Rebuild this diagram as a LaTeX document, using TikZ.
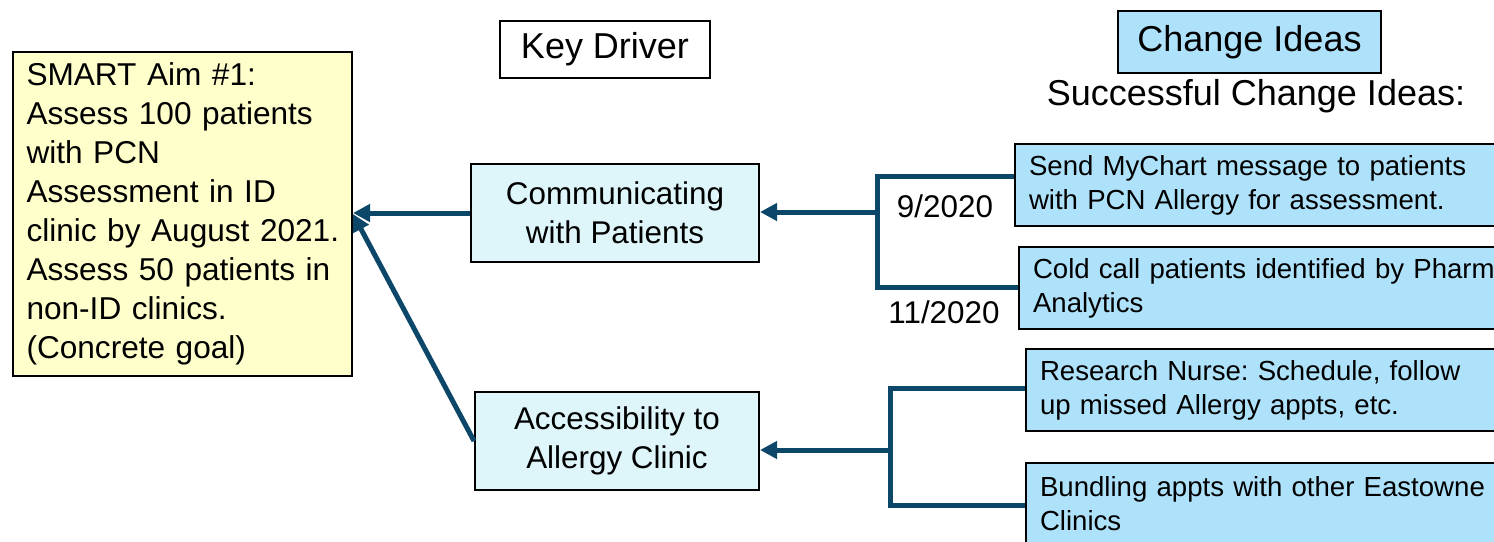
\documentclass[tikz,border=0pt]{standalone}
\usepackage{fontspec}
\setmainfont{Liberation Sans}
\usepackage[dvipsnames]{xcolor}
\usetikzlibrary{arrows.meta}
\definecolor{aimyellow}{RGB}{255,255,204}
\definecolor{driverblue}{RGB}{222,245,250}
\definecolor{ideablue}{RGB}{174,225,250}
\definecolor{linknavy}{RGB}{12,70,105}
\frenchspacing

\begin{document}
\begin{tikzpicture}[x=0.5pt,y=-0.5pt,
    box/.style={rectangle,draw=black,line width=1pt,inner ysep=0pt,anchor=north west},
    aim node/.style={box,fill=aimyellow,minimum width=169.5pt,minimum height=162pt,text width=156pt,inner xsep=6.75pt,align=left,font=\fontsize{15.8}{19.5}\selectfont},
    driver node/.style={box,fill=driverblue,minimum height=49pt,align=center,font=\fontsize{15.7}{19.5}\selectfont},
    idea node/.style={box,fill=ideablue,minimum height=41pt,text width=236pt,inner xsep=7pt,align=left,font=\fontsize{13.8}{17}\selectfont},
    head node/.style={box,font=\fontsize{18}{22}\selectfont},
    date node/.style={font=\fontsize{15.7}{19}\selectfont},
    link/.style={draw=linknavy,line width=2.5pt},
    arrow/.style={link,-{Triangle[length=8.5pt,width=8.5pt]}}]
    \useasboundingbox (0,0) rectangle (1494,541);
    \clip (0,0) rectangle (1494,541);

    \node[head node,fill=white,minimum width=105pt,minimum height=28.5pt] (keyhead) at (499,20) {Key Driver};
    \node[head node,fill=ideablue,minimum width=131.5pt,minimum height=31pt] (ideahead) at (1117,10) {Change Ideas};
    \node[font=\fontsize{18}{22}\selectfont] (success) at (1256,96) {Successful Change Ideas:};

    \node[aim node] (aim) at (12,51) {SMART Aim \#1:\\ Assess 100 patients\\ with PCN\\ Assessment in ID\\ \mbox{clinic by August 2021.}\\ \mbox{Assess 50 patients in}\\ non-ID clinics.\\ (Concrete goal)};

    \node[driver node,minimum width=144pt] (comm) at (470,163) {Communicating\\ with Patients};
    \node[driver node,minimum width=142pt] (access) at (474,391) {Accessibility to\\ Allergy Clinic};

    \node[idea node] (ci1) at (1014,143) {Send MyChart message to patients\\ with PCN Allergy for assessment.};
    \node[idea node] (ci2) at (1018,246) {\mbox{Cold call patients identified by Pharm}\\ Analytics};
    \node[idea node] (ci3) at (1025,348) {Research Nurse: Schedule, follow\\ up missed Allergy appts, etc.};
    \node[idea node] (ci4) at (1025,462) {Bundling appts with other Eastowne\\ Clinics};

    \node[date node] (d1) at (945,206) {9/2020};
    \node[date node] (d2) at (944,312) {11/2020};

    \coordinate (j1) at (877,212);
    \coordinate (j1a) at (877,176);
    \coordinate (j1b) at (877,287);
    \coordinate (j2) at (890,450);
    \coordinate (j2a) at (890,388);
    \coordinate (j2b) at (890,505);

    \draw[link] (j1a -| ci1.west) -- (j1a) -- (j1b) -- (j1b -| ci2.west);
    \draw[link] (j2a -| ci3.west) -- (j2a) -- (j2b) -- (j2b -| ci4.west);
    \draw[arrow] (j1) -- (j1 -| comm.east);
    \draw[arrow] (j2) -- (j2 -| access.east);
    \draw[arrow] (comm.west) -- (comm.west -| aim.east);
    \draw[arrow] (access.west) -- (aim.east);
\end{tikzpicture}
\end{document}
